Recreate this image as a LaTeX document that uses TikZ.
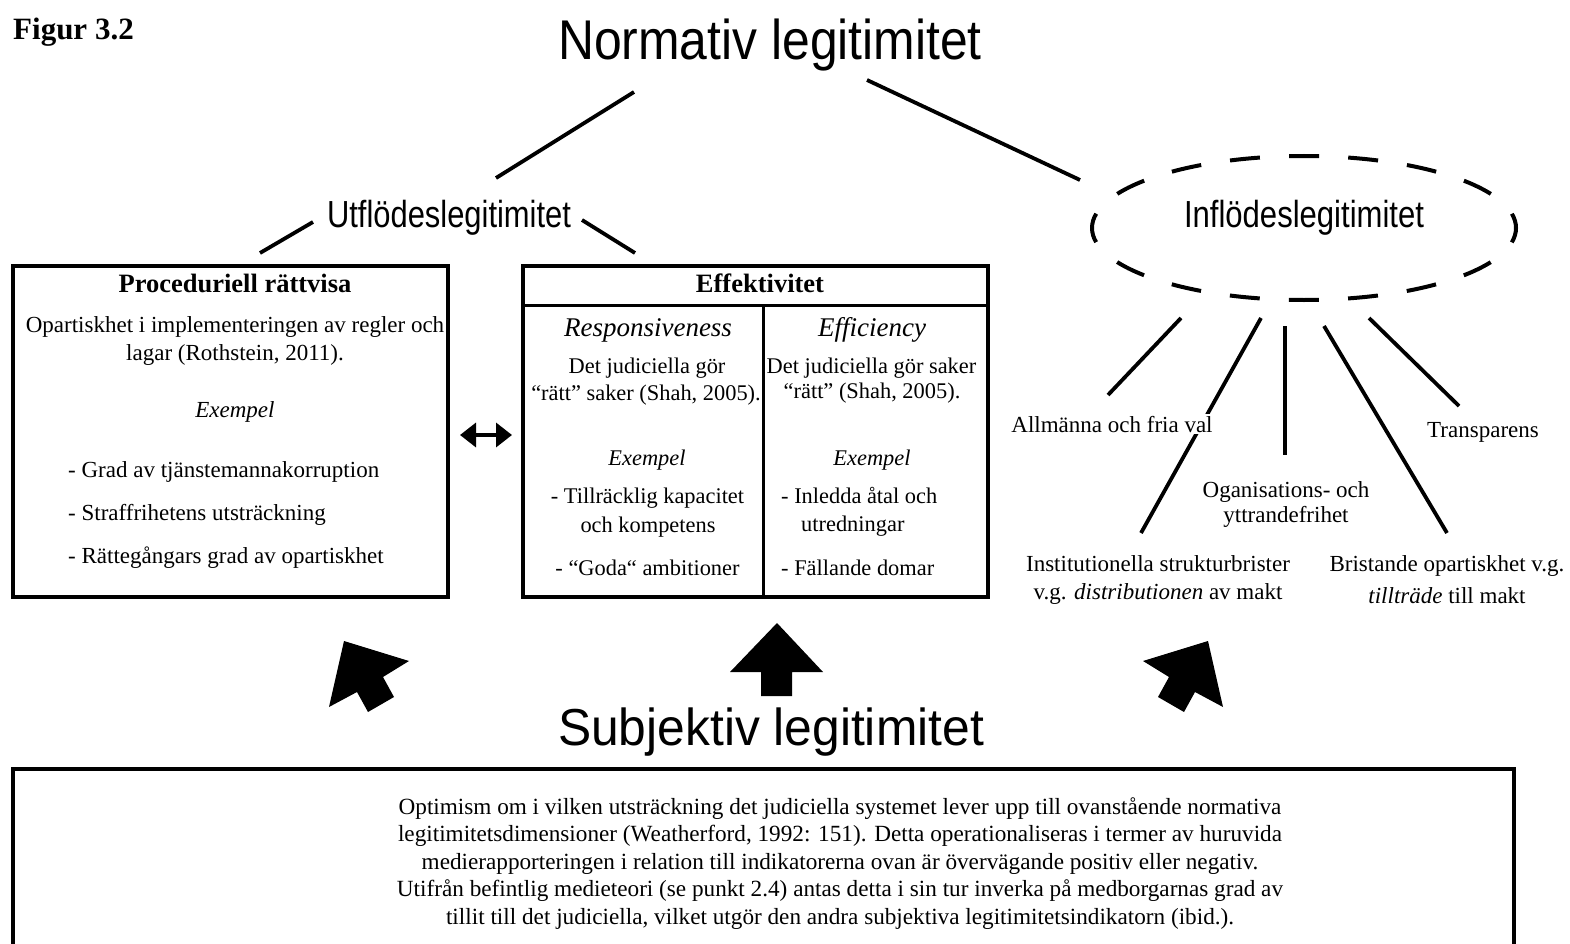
\documentclass[tikz,border=0pt]{standalone}
\usepackage{fontspec}
\setmainfont{Liberation Serif}
\newfontfamily\headfont{Liberation Sans}
\usepackage{graphicx}
\usetikzlibrary{arrows.meta}
\newcommand\headtxt[3]{{\headfont\fontsize{#1}{#1}\selectfont\scalebox{#2}[1]{#3}}}
\tikzset{
  body/.style={inner sep=0pt, font=\fontsize{23}{28}\selectfont},
  bodybase/.style={body, anchor=base},
  bodyleft/.style={body, anchor=base west},
  colbase/.style={inner sep=0pt, anchor=base, font=\fontsize{22.4}{28}\selectfont},
  colleft/.style={inner sep=0pt, anchor=base west, font=\fontsize{22.4}{28}\selectfont},
  boldhead/.style={inner sep=0pt, anchor=base, font=\fontsize{26.5}{30}\selectfont\bfseries},
  ithead/.style={inner sep=0pt, anchor=base, font=\fontsize{27}{30}\selectfont\itshape},
  heading/.style={inner sep=0pt, anchor=base},
  boxst/.style={draw, line width=3.8pt, outer sep=0pt, inner sep=0pt},
  conn/.style={line width=3.8pt},
  thin/.style={line width=3pt},
  blockarrow/.style={fill=black},
}
\begin{document}
\begin{tikzpicture}[x=1pt,y=-1pt]
\useasboundingbox (0,0) rectangle (1570,944);
\fill[white] (0,0) rectangle (1570,944);

% ---------- titles ----------
\node[inner sep=0pt, anchor=base west, font=\fontsize{31}{31}\selectfont\bfseries] (fig) at (13,40) {Figur 3.2};
\node[heading] (norm) at (770,60) {\headtxt{56}{0.89}{Normativ legitimitet}};
\node[heading] (utf) at (449,227) {\headtxt{37.7}{0.82}{Utflödeslegitimitet}};
\node[heading] (inf) at (1304,227) {\headtxt{37.7}{0.824}{Inflödeslegitimitet}};
\node[heading] (subj) at (771,745) {\headtxt{52}{0.957}{Subjektiv legitimitet}};

% ---------- connectors at the top ----------
\coordinate (n1) at (634,92);  \coordinate (u1) at (496,178);
\coordinate (n2) at (867,80);  \coordinate (i1) at (1080,180);
\coordinate (u2) at (313,222); \coordinate (p1) at (260,253);
\coordinate (u3) at (582,220); \coordinate (e1) at (635,253);
\draw[conn] (n1) -- (u1);
\draw[conn] (n2) -- (i1);
\draw[conn] (u2) -- (p1);
\draw[conn] (u3) -- (e1);

% ---------- dashed ellipse ----------
\coordinate (ellc) at (1304,228);
\draw[line width=4pt, dash pattern=on 30pt off 29.2pt, dash phase=15pt] (ellc) ellipse [x radius=212pt, y radius=72pt];

% ---------- spokes ----------
\coordinate (s1a) at (1181,318); \coordinate (s1b) at (1108,395);
\coordinate (s2a) at (1261,318); \coordinate (s2b) at (1141,533);
\coordinate (s3a) at (1285,326); \coordinate (s3b) at (1285,455);
\coordinate (s4a) at (1324,326); \coordinate (s4b) at (1447,533);
\coordinate (s5a) at (1369,318); \coordinate (s5b) at (1459,406);
\draw[conn] (s1a) -- (s1b);
\draw[conn] (s2a) -- (s2b);
\draw[conn] (s3a) -- (s3b);
\draw[conn] (s4a) -- (s4b);
\draw[conn] (s5a) -- (s5b);

% ---------- right-hand labels ----------
\node[bodybase, fill=white, inner sep=2pt] (allm) at (1112,432) {Allmänna och fria val};
\node[bodybase] (transp) at (1483,437) {Transparens};
\node[bodybase] (org1) at (1286,497) {Oganisations- och};
\node[bodybase] (org2) at (1286,522) {yttrandefrihet};
\node[bodybase] (inst1) at (1158,571) {Institutionella strukturbrister};
\node[bodybase] (inst2) at (1158,599) {v.g. \textit{distributionen} av makt};
\node[bodybase] (brist1) at (1447,571) {Bristande opartiskhet v.g.};
\node[bodybase] (brist2) at (1447,603) {\textit{tillträde} till makt};

% ---------- Proceduriell box ----------
\node[boxst, minimum width=435pt, minimum height=331pt] (proc) at (230.5,431.5) {};
\node[boldhead] (proct) at (235,292) {Proceduriell rättvisa};
\node[bodybase] (proc1) at (235,332) {Opartiskhet i implementeringen av regler och};
\node[bodybase] (proc2) at (235,360) {lagar (Rothstein, 2011).};
\node[bodybase] (procex) at (235,417) {\textit{Exempel}};
\node[bodyleft] (procb1) at (68,477) {- Grad av tjänstemannakorruption};
\node[bodyleft] (procb2) at (68,520) {- Straffrihetens utsträckning};
\node[bodyleft] (procb3) at (68,563) {- Rättegångars grad av opartiskhet};

% ---------- double arrow ----------
\coordinate (dl) at (460,435); \coordinate (dr) at (512,435);
\draw[line width=3.5pt, {Triangle[length=16pt,width=24pt]}-{Triangle[length=16pt,width=24pt]}] (dl) -- (dr);

% ---------- Effektivitet box ----------
\node[boxst, minimum width=465pt, minimum height=331pt] (eff) at (755.5,431.5) {};
\coordinate (effhl) at (523,305); \coordinate (effhr) at (988,305);
\draw[thin] (effhl) -- (effhr);
\coordinate (effdiv) at (763,305);
\draw[thin] (effdiv) -- (effdiv |- eff.south);
\node[boldhead] (efft) at (760,292) {Effektivitet};
\node[ithead] (resp) at (648,336) {Responsiveness};
\node[ithead] (effi) at (872,336) {Efficiency};
\node[colbase] (resp1) at (647,373) {Det judiciella gör};
\node[colbase] (resp2) at (646,400) {“rätt” saker (Shah, 2005).};
\node[colbase] (effi1) at (871.5,373) {Det judiciella gör saker};
\node[colbase] (effi2) at (872,398) {“rätt” (Shah, 2005).};
\node[colbase] (respex) at (647,465) {\textit{Exempel}};
\node[colbase] (effiex) at (872,465) {\textit{Exempel}};
\node[colbase] (respb1) at (647.5,503) {- Tillräcklig kapacitet};
\node[colbase] (respb2) at (648,532) {och kompetens};
\node[colbase] (respb3) at (647.5,575) {- “Goda“ ambitioner};
\node[colleft] (effib1) at (781,503) {- Inledda åtal och};
\node[colleft] (effib2) at (801,531) {utredningar};
\node[colleft] (effib3) at (781,575) {- Fällande domar};

% ---------- block arrows ----------
\fill[blockarrow] (344,641) -- (409,661) -- (383,677) -- (394,697) -- (368,712) -- (357,692) -- (329,707) -- cycle;
\fill[blockarrow] (777,623) -- (823,672) -- (792,672) -- (792,696) -- (761,696) -- (761,672) -- (730,672) -- cycle;
\fill[blockarrow] (1208,641) -- (1143,661) -- (1169,677) -- (1158,697) -- (1184,712) -- (1195,692) -- (1223,707) -- cycle;

% ---------- bottom box ----------
\node[boxst, anchor=north west, minimum width=1501pt, minimum height=250pt] (subjbox) at (13,769) {};
\node[bodybase, font=\fontsize{23.2}{28}\selectfont] (t1) at (840,814) {Optimism om i vilken utsträckning det judiciella systemet lever upp till ovanstående normativa};
\node[bodybase, font=\fontsize{23.2}{28}\selectfont] (t2) at (840,841.5) {legitimitetsdimensioner (Weatherford, 1992: 151). Detta operationaliseras i termer av huruvida};
\node[bodybase, font=\fontsize{23.2}{28}\selectfont] (t3) at (840,869) {medierapporteringen i relation till indikatorerna ovan är övervägande positiv eller negativ.};
\node[bodybase, font=\fontsize{23.2}{28}\selectfont] (t4) at (840,896.5) {Utifrån befintlig medieteori (se punkt 2.4) antas detta i sin tur inverka på medborgarnas grad av};
\node[bodybase, font=\fontsize{23.2}{28}\selectfont] (t5) at (840,924) {tillit till det judiciella, vilket utgör den andra subjektiva legitimitetsindikatorn (ibid.).};
\end{tikzpicture}
\end{document}
